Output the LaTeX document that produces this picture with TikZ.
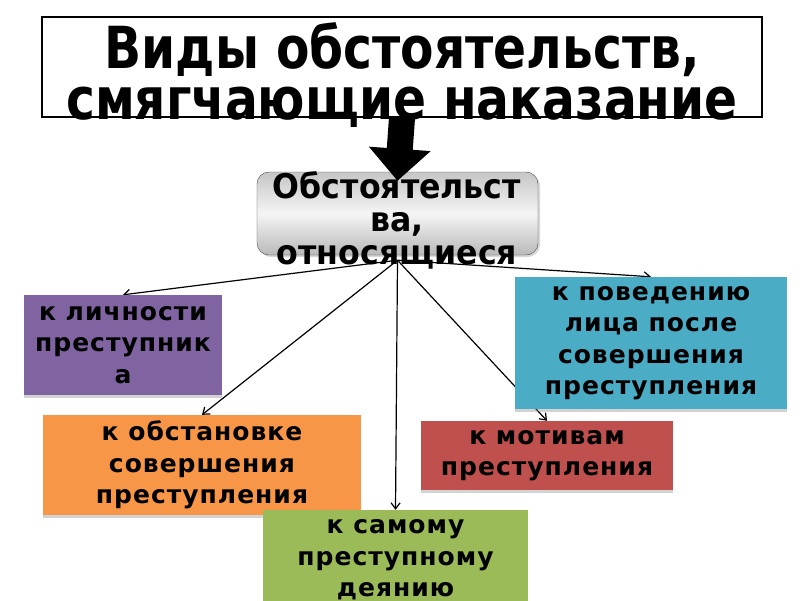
\documentclass[tikz,border=0pt]{standalone}
\usepackage{fontspec}
\setmainfont{DejaVu Sans}
\newfontfamily\condfont{DejaVu Sans}[FakeStretch=0.84]
\newfontfamily\subfont{DejaVu Sans}[FakeStretch=0.93]
\newfontfamily\boxfont{DejaVu Sans}[LetterSpace=4]
\usetikzlibrary{positioning, arrows.meta, shadows, backgrounds}
\definecolor{catpurple}{RGB}{128,100,162}
\definecolor{catorange}{RGB}{247,150,70}
\definecolor{catgreen}{RGB}{155,187,89}
\definecolor{catblue}{RGB}{75,172,198}
\definecolor{catred}{RGB}{192,80,77}

\begin{document}
\begin{tikzpicture}[x=1pt, y=-1pt,
    cat/.style={rectangle, inner sep=0pt, align=center,
      font=\boxfont\bfseries\fontsize{25}{31.5}\selectfont,
      drop shadow={shadow xshift=0pt, shadow yshift=-3pt, opacity=0.35}},
    head/.style={font=\condfont\bfseries\fontsize{58}{51}\selectfont, align=center, inner sep=0pt},
    sub/.style={font=\subfont\bfseries\fontsize{34}{33}\selectfont, align=center, inner sep=0pt},
    link/.style={-{Straight Barb[length=6pt, width=9pt]}, black, line width=1.2pt},
    bigarr/.style={line width=26pt, -{Triangle[width=60pt, length=32pt]}, black},
  ]
  \useasboundingbox (0,0) rectangle (800,600);
  \begin{scope}[on background layer]
    \fill[white] (0,0) rectangle (800,600);
  \end{scope}
  % title
  \node[draw=black, line width=1.5pt, minimum width=720pt, minimum height=100pt] (title) at (402,67) {};
  \node[head] (titletext) at (402,75) {Виды обстоятельств,\\смягчающие наказание};
  % common node
  \node[rectangle, rounded corners=12pt, draw=gray!60!black, minimum width=281pt, minimum height=83pt,
    top color=gray!45, bottom color=gray!55, middle color=gray!8,
    drop shadow={shadow xshift=2pt, shadow yshift=-2pt, opacity=0.3}] (circ) at (397.5,213.5) {};
  \node[sub] (circtext) at (397,220) {Обстоятельст\\ва,\\относящиеся};
  \draw[bigarr] (title.south) -- ([yshift=-9pt]circ.north);
  % categories
  \node[cat, fill=catpurple, minimum width=198pt, minimum height=100pt] (pers) at (123,345) {к личности\\преступник\\а};
  \node[cat, fill=catorange, minimum width=318pt, minimum height=100pt] (situ) at (202,465) {к обстановке\\совершения\\преступления};
  \node[cat, fill=catgreen, minimum width=265pt, minimum height=100pt] (deed) at (395.5,560) {к самому\\преступному\\деянию};
  \node[cat, fill=catblue, minimum width=272pt, minimum height=132pt] (after) at (651,343) {к поведению\\лица после\\совершения\\преступления};
  \node[cat, fill=catred, minimum width=252pt, minimum height=69pt] (motive) at (547,455.5) {к мотивам\\преступления};
  % links
  \coordinate (hub) at ([yshift=-5pt]circ.south);
  \begin{scope}[on background layer]
    \draw[link] (hub) -- (pers.north);
    \draw[link] (hub) -- (situ.north);
    \draw[link] (hub) -- (deed.north);
    \draw[link] (hub) -- (motive.north);
    \draw[link] (hub) -- (after.north);
  \end{scope}
\end{tikzpicture}
\end{document}
